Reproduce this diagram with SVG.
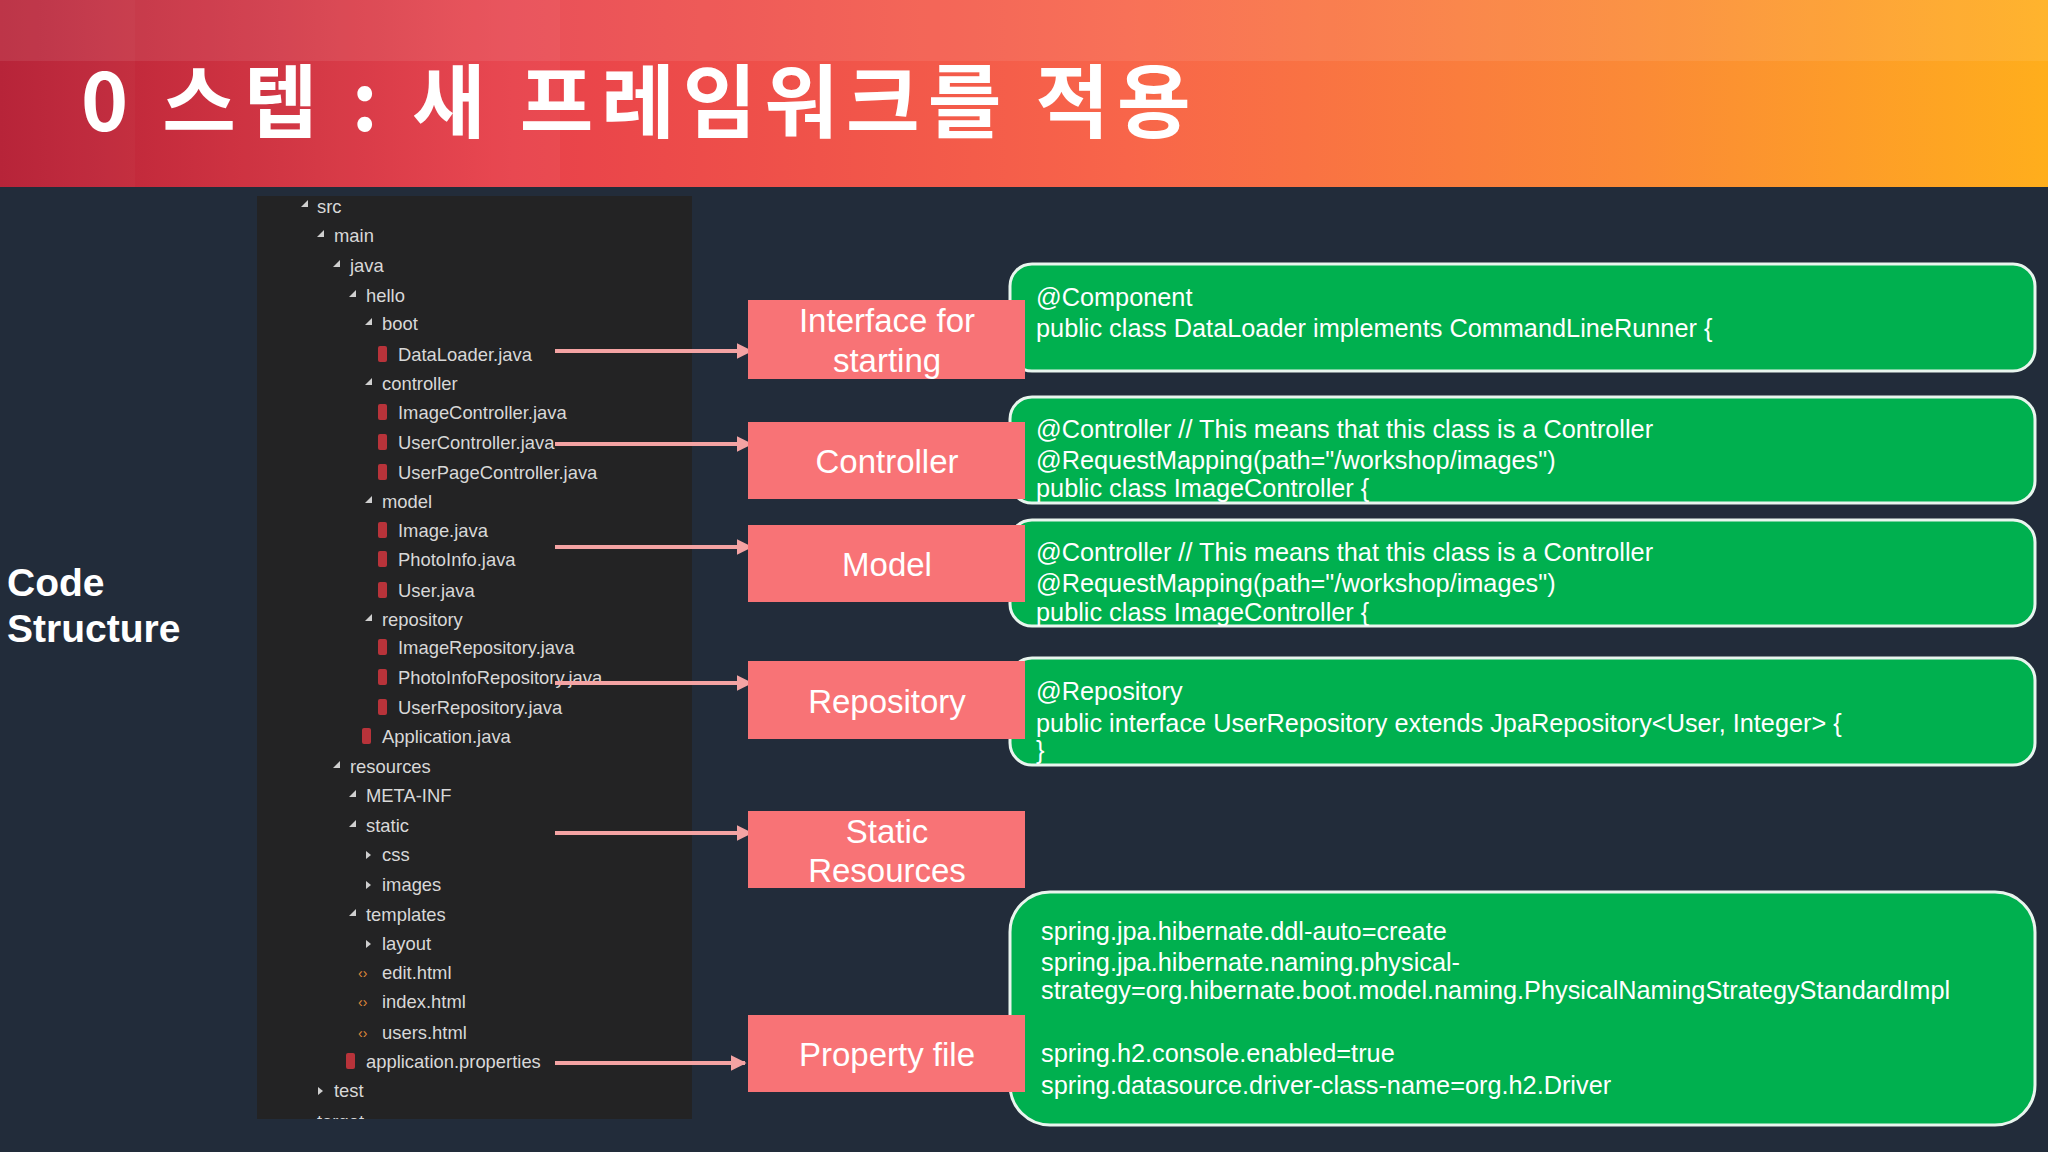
<svg xmlns="http://www.w3.org/2000/svg" width="2048" height="1152" viewBox="0 0 2048 1152">
<defs>
<linearGradient id="hg" x1="0" y1="0" x2="1" y2="0">
<stop offset="0" stop-color="#b3172d"/><stop offset="0.25" stop-color="#e8414a"/><stop offset="0.55" stop-color="#f8654a"/><stop offset="0.8" stop-color="#fb8a36"/><stop offset="1" stop-color="#ffae1c"/>
</linearGradient>
<clipPath id="tc"><rect x="257" y="196" width="435" height="923"/></clipPath>
<marker id="ah" viewBox="0 0 10 10" refX="9" refY="5" markerWidth="4" markerHeight="4" orient="auto"><path d="M0,0L10,5L0,10z" fill="#f4a3a3"/></marker>
<style>
.t{font-family:"Liberation Sans",Arial,sans-serif;fill:#d8d8d8;font-size:18.4px}
.tri{fill:#cfcfcf}
.ic{fill:#b8333a}
.pk{fill:#f87376}
.pt{font-family:"Liberation Sans",Arial,sans-serif;fill:#fff;font-size:33px;text-anchor:middle}
.gb{fill:#00b04f;stroke:#e9f5ee;stroke-width:3}
.gt{font-family:"Liberation Sans",Arial,sans-serif;fill:#fff;font-size:25.3px}
.ar{stroke:#f4a3a3;stroke-width:4;fill:none;marker-end:url(#ah)}
</style>
</defs>
<rect width="2048" height="1152" fill="#222c3a"/>
<g id="header">
<rect width="2048" height="187" fill="url(#hg)"/>
<rect width="2048" height="61" fill="#fff" opacity="0.08"/>
<rect x="0" width="135" height="187" fill="#fff" opacity="0.06"/>
<rect x="135" width="425" height="187" fill="#fff" opacity="0.04"/>
<text x="81" y="131" font-family="'Noto Sans CJK KR',sans-serif" font-weight="bold" font-size="80" letter-spacing="8" fill="#fff">0 스텝 : 새 프레임워크를 적용</text>
</g>
<g id="label"><text x="7" y="596" font-family="'Liberation Sans',Arial,sans-serif" font-weight="bold" font-size="39" fill="#fff">Code</text><text x="7" y="642" font-family="'Liberation Sans',Arial,sans-serif" font-weight="bold" font-size="39" fill="#fff">Structure</text></g>
<g id="tree">
<rect x="257" y="196" width="435" height="923" fill="#232324"/>
<g class="t" clip-path="url(#tc)">
<text x="317" y="213">src</text><text x="334" y="242">main</text><text x="350" y="272">java</text><text x="366" y="302">hello</text><text x="382" y="330">boot</text>
<text x="398" y="361">DataLoader.java</text><text x="382" y="390">controller</text><text x="398" y="419">ImageController.java</text><text x="398" y="449">UserController.java</text><text x="398" y="479">UserPageController.java</text>
<text x="382" y="508">model</text><text x="398" y="537">Image.java</text><text x="398" y="566">PhotoInfo.java</text><text x="398" y="597">User.java</text><text x="382" y="626">repository</text>
<text x="398" y="654">ImageRepository.java</text><text x="398" y="684">PhotoInfoRepository.java</text><text x="398" y="714">UserRepository.java</text><text x="382" y="743">Application.java</text>
<text x="350" y="773">resources</text><text x="366" y="802">META-INF</text><text x="366" y="832">static</text><text x="382" y="861">css</text><text x="382" y="891">images</text>
<text x="366" y="921">templates</text><text x="382" y="950">layout</text><text x="382" y="979">edit.html</text><text x="382" y="1008">index.html</text><text x="382" y="1039">users.html</text>
<text x="366" y="1068">application.properties</text><text x="334" y="1097">test</text><text x="317" y="1128">target</text>
</g>
<g class="tri">
<path d="M301,207l7,-7v7z"/><path d="M317,237l7,-7v7z"/><path d="M333,267l7,-7v7z"/><path d="M349,297l7,-7v7z"/><path d="M365,325l7,-7v7z"/><path d="M365,385l7,-7v7z"/><path d="M365,503l7,-7v7z"/><path d="M365,621l7,-7v7z"/>
<path d="M333,768l7,-7v7z"/><path d="M349,797l7,-7v7z"/><path d="M349,827l7,-7v7z"/><path d="M349,916l7,-7v7z"/>
<path d="M366,851l5,4l-5,4z"/><path d="M366,881l5,4l-5,4z"/><path d="M366,940l5,4l-5,4z"/><path d="M318,1087l5,4l-5,4z"/>
</g>
<g class="ic">
<rect x="378" y="346" width="9" height="16" rx="2"/><rect x="378" y="404" width="9" height="16" rx="2"/><rect x="378" y="434" width="9" height="16" rx="2"/><rect x="378" y="464" width="9" height="16" rx="2"/>
<rect x="378" y="522" width="9" height="16" rx="2"/><rect x="378" y="551" width="9" height="16" rx="2"/><rect x="378" y="582" width="9" height="16" rx="2"/>
<rect x="378" y="639" width="9" height="16" rx="2"/><rect x="378" y="669" width="9" height="16" rx="2"/><rect x="378" y="699" width="9" height="16" rx="2"/><rect x="362" y="728" width="9" height="16" rx="2"/><rect x="346" y="1053" width="9" height="16" rx="2"/>
</g>
<g font-family="'Liberation Sans',sans-serif" font-size="14" fill="#e08a3a"><text x="358" y="978">‹›</text><text x="358" y="1007">‹›</text><text x="358" y="1038">‹›</text></g>
</g>
<g id="connectors">
<line class="ar" x1="555" y1="351" x2="751" y2="351"/>
<line class="ar" x1="555" y1="444" x2="751" y2="444"/>
<line class="ar" x1="555" y1="547" x2="751" y2="547"/>
<line class="ar" x1="555" y1="683" x2="751" y2="683"/>
<line class="ar" x1="555" y1="833" x2="751" y2="833"/>
<line class="ar" x1="555" y1="1063" x2="745" y2="1063"/>
</g>
<g id="green1"><rect class="gb" x="1010" y="264" width="1025" height="107" rx="22"/><text class="gt" x="1036" y="306">@Component</text><text class="gt" x="1036" y="337">public class DataLoader implements CommandLineRunner {</text></g>
<g id="green2"><rect class="gb" x="1010" y="397" width="1025" height="106" rx="22"/><text class="gt" x="1036" y="438">@Controller // This means that this class is a Controller</text><text class="gt" x="1036" y="469">@RequestMapping(path="/workshop/images")</text><text class="gt" x="1036" y="497">public class ImageController {</text></g>
<g id="green3"><rect class="gb" x="1010" y="520" width="1025" height="106" rx="22"/><text class="gt" x="1036" y="561">@Controller // This means that this class is a Controller</text><text class="gt" x="1036" y="592">@RequestMapping(path="/workshop/images")</text><text class="gt" x="1036" y="621">public class ImageController {</text></g>
<g id="green4"><rect class="gb" x="1010" y="658" width="1025" height="107" rx="22"/><text class="gt" x="1036" y="700">@Repository</text><text class="gt" x="1036" y="732">public interface UserRepository extends JpaRepository&lt;User, Integer&gt; {</text><text class="gt" x="1036" y="759">}</text></g>
<g id="green5"><rect class="gb" x="1010" y="892" width="1025" height="233" rx="40"/>
<text class="gt" x="1041" y="940">spring.jpa.hibernate.ddl-auto=create</text><text class="gt" x="1041" y="971">spring.jpa.hibernate.naming.physical-</text><text class="gt" x="1041" y="999">strategy=org.hibernate.boot.model.naming.PhysicalNamingStrategyStandardImpl</text>
<text class="gt" x="1041" y="1062">spring.h2.console.enabled=true</text><text class="gt" x="1041" y="1094">spring.datasource.driver-class-name=org.h2.Driver</text></g>
<g id="pink1"><rect class="pk" x="748" y="300" width="277" height="79"/><text class="pt" x="887" y="332">Interface for</text><text class="pt" x="887" y="372">starting</text></g>
<g id="pink2"><rect class="pk" x="748" y="422" width="277" height="77"/><text class="pt" x="887" y="473">Controller</text></g>
<g id="pink3"><rect class="pk" x="748" y="525" width="277" height="77"/><text class="pt" x="887" y="576">Model</text></g>
<g id="pink4"><rect class="pk" x="748" y="661" width="277" height="78"/><text class="pt" x="887" y="713">Repository</text></g>
<g id="pink5"><rect class="pk" x="748" y="811" width="277" height="77"/><text class="pt" x="887" y="843">Static</text><text class="pt" x="887" y="882">Resources</text></g>
<g id="pink6"><rect class="pk" x="748" y="1015" width="277" height="77"/><text class="pt" x="887" y="1066">Property file</text></g>
</svg>
